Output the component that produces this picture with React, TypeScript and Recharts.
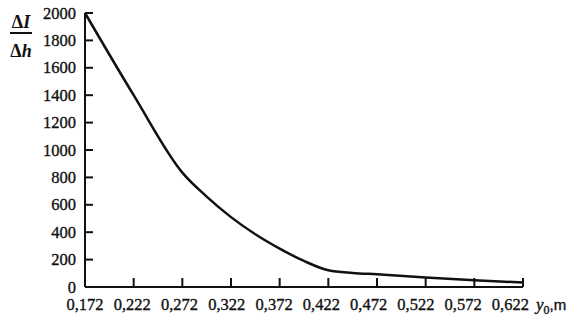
import React from "react";
import { LineChart, Line, XAxis, YAxis } from "recharts";

const xValues = [0.172, 0.222, 0.272, 0.297, 0.322, 0.347, 0.372, 0.397, 0.422, 0.447, 0.472, 0.522, 0.572, 0.622];
const yValues = [2000, 1400, 835, 660, 510, 385, 280, 190, 122, 103, 93, 70, 50, 32];
const xTicks = [0.172, 0.222, 0.272, 0.322, 0.372, 0.422, 0.472, 0.522, 0.572, 0.622];
const yTicks = [0, 200, 400, 600, 800, 1000, 1200, 1400, 1600, 1800, 2000];

const data = xValues.map((x, i) => ({ x, y: yValues[i] }));

const FONT = "Liberation Serif, Times New Roman, serif";
const serif = { fontFamily: FONT };

const YTick = (props: any) => {
  const { x, y, payload } = props;
  return (
    <g>
      <line x1={x + 4} x2={x + 12} y1={y} y2={y} stroke="#111" strokeWidth={2} />
      <text x={x - 5} y={y} dy={5.5} textAnchor="end" style={serif} fontSize={16.5} fill="#111" stroke="#111" strokeWidth={0.35}>
        {payload.value}
      </text>
    </g>
  );
};

const XTick = (props: any) => {
  const { x, y, payload, index } = props;
  return (
    <g>
      <line x1={x} x2={x} y1={y - 4} y2={y - 13} stroke="#111" strokeWidth={2} />
      <text x={x - index * 1.4} y={y + 19} textAnchor="middle" style={serif} fontSize={16.5} fill="#111" stroke="#111" strokeWidth={0.35}>
        {String(payload.value.toFixed(3)).replace(".", ",")}
      </text>
    </g>
  );
};

const XLabel = (props: any) => {
  const { viewBox } = props;
  const x = viewBox.x + viewBox.width + 13;
  const y = viewBox.y + 23;
  return (
    <text x={x} y={y} style={serif} fontSize={17} fill="#111" stroke="#111" strokeWidth={0.35}>
      <tspan fontStyle="italic">y</tspan>
      <tspan fontSize={12} dy={4}>0</tspan>
      <tspan dy={-4} style={{ fontFamily: "Liberation Sans, sans-serif" }} fontSize={15}>,m</tspan>
    </text>
  );
};

const YLabel = () => {
  return (
    <g>
      <text x={21} y={28} textAnchor="middle" style={serif} fontSize={18} fontWeight="bold" fill="#111">
        Δ<tspan fontStyle="italic">I</tspan>
      </text>
      <line x1={10} x2={32} y1={33} y2={33} stroke="#111" strokeWidth={2} />
      <text x={21} y={57} textAnchor="middle" style={serif} fontSize={18} fontWeight="bold" fill="#111">
        Δ<tspan fontStyle="italic">h</tspan>
      </text>
    </g>
  );
};

export default function App() {
  return (
    <div style={{ position: "absolute", left: 0, top: 0, width: 585, height: 321, background: "#fff" }}>
      <LineChart width={585} height={321} data={data} margin={{ top: 13, right: 62, bottom: 0, left: 0 }}>
        <XAxis
          dataKey="x"
          type="number"
          domain={[0.172, 0.622]}
          ticks={xTicks}
          interval={0}
          height={34}
          tickSize={0}
          tickMargin={4}
          tick={<XTick />}
          axisLine={{ stroke: "#111", strokeWidth: 2 }}
          tickLine={false}
          label={<XLabel />}
        />
        <YAxis
          type="number"
          domain={[0, 2000]}
          ticks={yTicks}
          interval={0}
          width={85}
          tickSize={0}
          tickMargin={4}
          tick={<YTick />}
          axisLine={{ stroke: "#111", strokeWidth: 2 }}
          tickLine={false}
          label={<YLabel />}
        />
        <Line
          dataKey="y"
          type="monotone"
          stroke="#111"
          strokeWidth={2.5}
          dot={false}
          isAnimationActive={false}
        />
      </LineChart>
    </div>
  );
}
